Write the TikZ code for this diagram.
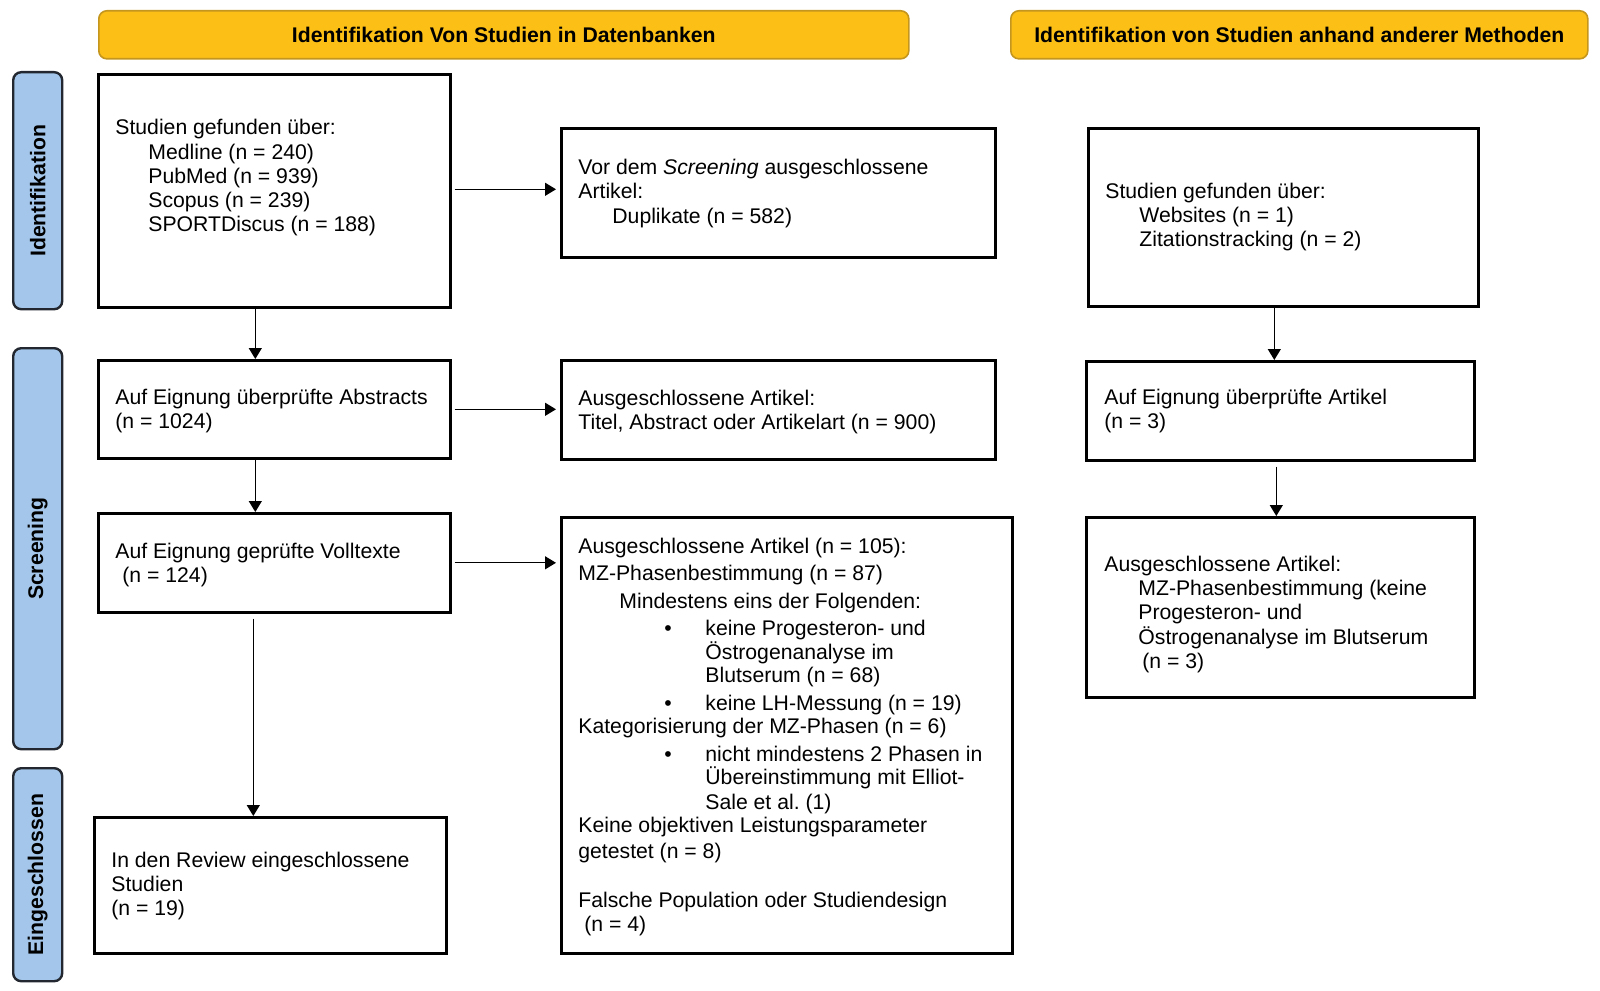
\documentclass[tikz,border=0pt]{standalone}
\usepackage{fontspec}
\setmainfont{Liberation Sans}
\usetikzlibrary{arrows.meta,calc}
\definecolor{hdrfill}{RGB}{252,191,22}
\definecolor{hdrdraw}{RGB}{196,150,30}
\definecolor{sidefill}{RGB}{163,198,234}
\definecolor{sidedraw}{RGB}{35,40,48}
\tikzset{
  txt/.style={anchor=base west, inner sep=0pt, font=\fontsize{10.6}{12.15}\selectfont},
  box/.style={draw=black, line width=1.3pt, fill=white, anchor=north west, inner sep=0pt},
  hdr/.style={draw=hdrdraw, line width=0.8pt, fill=hdrfill, rounded corners=4pt, anchor=north west, inner sep=0pt, font=\fontsize{10.6}{12}\selectfont\bfseries},
  side/.style={draw=sidedraw, line width=1.2pt, fill=sidefill, rounded corners=4pt, anchor=north west, inner sep=0pt},
  sidelbl/.style={rotate=90, font=\fontsize{10.6}{12}\selectfont\bfseries, inner sep=0pt},
  arr/.style={-{Triangle[length=5.5pt,width=6.5pt]}, line width=0.65pt},
}
\newcommand\rectnode[7]{\node[#2, minimum width={(#5-#3)*0.5pt}, minimum height={(#6-#4)*0.5pt}] (#1) at (#3,#4) {#7};}
\newcommand\tline[4]{\node[txt] (#1) at (#2,#3) {#4};}
\begin{document}
\begin{tikzpicture}[x=0.5pt,y=-0.5pt]
\useasboundingbox (0,0) rectangle (1600,990);
% headers
\rectnode{hL}{hdr}{98}{10}{908}{58}{Identifikation Von Studien in Datenbanken}
\rectnode{hR}{hdr}{1010}{10}{1587}{58}{Identifikation von Studien anhand anderer Methoden}
% side boxes
\rectnode{sI}{side}{12}{71}{61}{308}{}
\rectnode{sS}{side}{12}{347}{61}{748}{}
\rectnode{sE}{side}{12}{767}{61}{980}{}
\node[sidelbl] (lI) at (sI.center) {Identifikation};
\node[sidelbl] (lS) at (sS.center) {Screening};
\node[sidelbl] (lE) at (sE.center) {Eingeschlossen};
% boxes
\rectnode{A}{box}{97}{73}{449}{306}{}
\rectnode{B}{box}{560}{127}{994}{256}{}
\rectnode{C}{box}{1087}{127}{1477}{305}{}
\rectnode{D}{box}{97}{359}{449}{457}{}
\rectnode{E}{box}{560}{359}{994}{458}{}
\rectnode{F}{box}{1085}{360}{1473}{459}{}
\rectnode{G}{box}{97}{512}{449}{611}{}
\rectnode{H}{box}{560}{516}{1011}{952}{}
\rectnode{I}{box}{1085}{516}{1473}{696}{}
\rectnode{J}{box}{93}{816}{445}{952}{}
% texts A
\tline{a1}{115}{134.5}{Studien gefunden über:}
\tline{a2}{148}{159}{Medline (n = 240)}
\tline{a3}{148}{183.3}{PubMed (n = 939)}
\tline{a4}{148}{207.6}{Scopus (n = 239)}
\tline{a5}{148}{231.9}{SPORTDiscus (n = 188)}
% B
\tline{b1}{578}{174.5}{Vor dem \textit{Screening} ausgeschlossene}
\tline{b2}{578}{198.8}{Artikel:}
\tline{b3}{612}{223.1}{Duplikate (n = 582)}
% C
\tline{c1}{1105}{198}{Studien gefunden über:}
\tline{c2}{1139}{222.3}{Websites (n = 1)}
\tline{c3}{1139}{246.6}{Zitationstracking (n = 2)}
% D
\tline{d1}{115}{404}{Auf Eignung überprüfte Abstracts}
\tline{d2}{115}{428.3}{(n = 1024)}
% E
\tline{e1}{578}{405}{Ausgeschlossene Artikel:}
\tline{e2}{578}{429.3}{Titel, Abstract oder Artikelart (n = 900)}
% F
\tline{f1}{1104}{404}{Auf Eignung überprüfte Artikel}
\tline{f2}{1104}{428.3}{(n = 3)}
% G
\tline{g1}{115}{558}{Auf Eignung geprüfte Volltexte}
\tline{g2}{122}{582.3}{(n = 124)}
% H
\tline{h1}{578}{553}{Ausgeschlossene Artikel (n = 105):}
\tline{h2}{578}{580.5}{MZ-Phasenbestimmung (n = 87)}
\tline{h3}{619}{608}{Mindestens eins der Folgenden:}
\tline{hb1}{664}{635.6}{•}
\tline{h4}{705}{635.6}{keine Progesteron- und}
\tline{h5}{705}{659}{Östrogenanalyse im}
\tline{h6}{705}{682.5}{Blutserum (n = 68)}
\tline{hb2}{664}{710}{•}
\tline{h7}{705}{710}{keine LH-Messung (n = 19)}
\tline{h8}{578}{733.5}{Kategorisierung der MZ-Phasen (n = 6)}
\tline{hb3}{664}{761}{•}
\tline{h9}{705}{761}{nicht mindestens 2 Phasen in}
\tline{h10}{705}{784.5}{Übereinstimmung mit Elliot-}
\tline{h11}{705}{809}{Sale et al.\ (1)}
\tline{h12}{578}{832.5}{Keine objektiven Leistungsparameter}
\tline{h13}{578}{858}{getestet (n = 8)}
\tline{h14}{578}{907}{Falsche Population oder Studiendesign}
\tline{h15}{584}{931.5}{(n = 4)}
% I
\tline{i1}{1104}{571.3}{Ausgeschlossene Artikel:}
\tline{i2}{1138}{595.6}{MZ-Phasenbestimmung (keine}
\tline{i3}{1138}{619.9}{Progesteron- und}
\tline{i4}{1138}{644.2}{Östrogenanalyse im Blutserum}
\tline{i5}{1142}{668.5}{(n = 3)}
% J
\tline{j1}{111}{867}{In den Review eingeschlossene}
\tline{j2}{111}{891.3}{Studien}
\tline{j3}{111}{915.6}{(n = 19)}
% arrows
\draw[arr, shorten <=1.5pt, shorten >=2pt] ($(A.east)+(0,-1.5)$) -- ($(A.east -| B.west)+(0,-1.5)$);
\draw[arr, shorten <=1.5pt, shorten >=2pt] (D.east) -- (D.east -| E.west);
\draw[arr, shorten <=1.5pt, shorten >=2pt] (G.east) -- (G.east -| H.west);
\draw[arr] ($(A.south)+(-19,0)$) -- ($(D.north)+(-19,0)$);
\draw[arr] ($(D.south)+(-19,0)$) -- ($(G.north)+(-19,0)$);
\draw[arr, shorten <=2.5pt] ($(G.south)+(-21,0)$) -- ($(J.north -| G.south)+(-21,0)$);
\draw[arr] ($(C.south)+(-9,0)$) -- ($(F.north -| C.south)+(-9,0)$);
\draw[arr, shorten <=2.5pt] ($(F.south)+(-4,0)$) -- ($(I.north)+(-4,0)$);
\end{tikzpicture}
\end{document}
